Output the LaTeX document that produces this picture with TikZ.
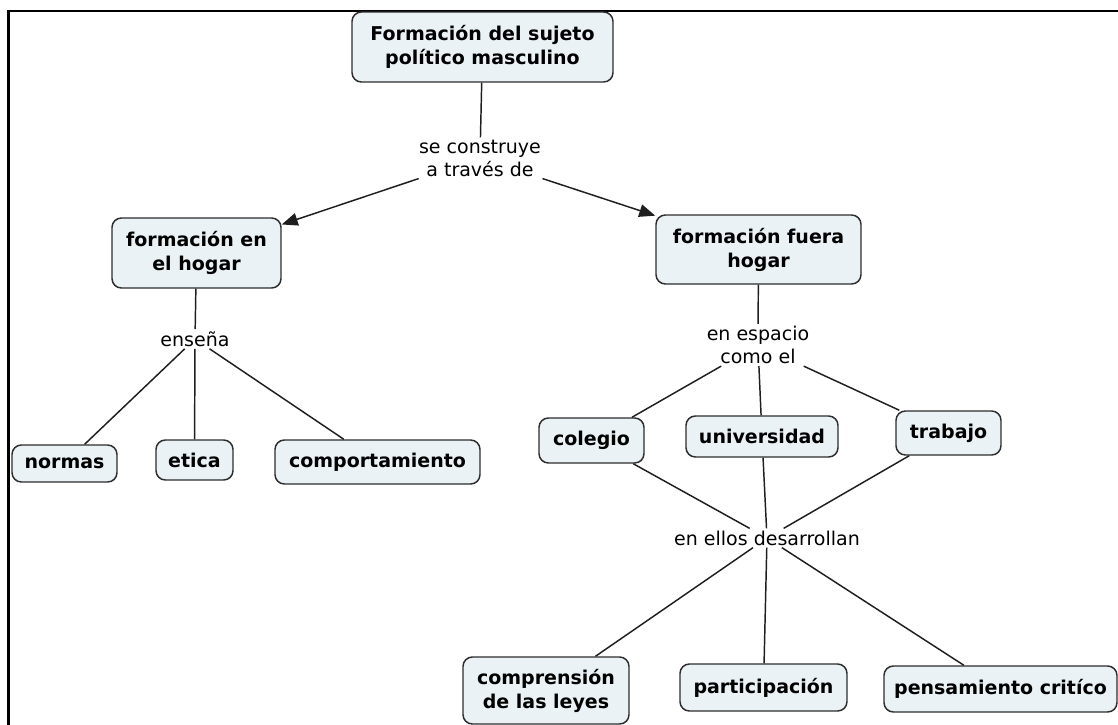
\documentclass[tikz,border=0pt]{standalone}
\usepackage{fontspec}
\setmainfont{DejaVu Sans}
\usetikzlibrary{arrows.meta}
\definecolor{boxfill}{RGB}{234,242,245}
\definecolor{boxline}{RGB}{45,45,45}
\definecolor{linkcol}{RGB}{30,30,30}
\tikzset{
  concept/.style={draw=boxline, fill=boxfill, rounded corners=7pt, line width=1.1pt,
    align=center, inner sep=0pt, text=black,
    font=\fontsize{14.25pt}{18pt}\selectfont\bfseries},
  linklabel/.style={align=center, inner sep=1.5pt, text=black,
    font=\fontsize{14.25pt}{17.25pt}\selectfont},
  link/.style={draw=linkcol, line width=1.1pt},
  arrowlink/.style={link, -{Triangle[length=12pt,width=9.5pt]}},
  frameline/.style={draw=black, line width=2.2pt}
}
\begin{document}
\begin{tikzpicture}[x=0.75pt,y=-0.75pt]
\useasboundingbox (0,0) rectangle (1118,725);
% frame
\coordinate (fTR) at (1118,11);
\coordinate (fTL) at (8.5,11);
\coordinate (fBL) at (8.5,725);
\draw[frameline] (fTR) -- (fTL) -- (fBL);

% concepts
\node[concept, minimum width=195.75pt, minimum height=52.5pt] (top) at (482.5,47)
  {Formación del sujeto\\político masculino};
\node[concept, minimum width=126.75pt, minimum height=52.5pt] (hogar) at (196.5,253)
  {formación en\\el hogar};
\node[concept, minimum width=153.75pt, minimum height=51.75pt] (fuera) at (758.5,249.5)
  {formación fuera\\hogar};
\node[concept, minimum width=78.75pt, minimum height=27.75pt] (normas) at (64.5,463.5) {normas};
\node[concept, minimum width=57.75pt, minimum height=30pt] (etica) at (194.5,460) {etica};
\node[concept, minimum width=153.75pt, minimum height=33pt] (comport) at (377.5,462) {comportamiento};
\node[concept, minimum width=78.75pt, minimum height=33.75pt] (colegio) at (591.5,440.5) {colegio};
\node[concept, minimum width=114pt, minimum height=30.75pt] (univ) at (762,436.5) {universidad};
\node[concept, minimum width=78.75pt, minimum height=33pt] (trabajo) at (948.5,433) {trabajo};
\node[concept, minimum width=124.5pt, minimum height=50.25pt] (compr) at (546,690.5)
  {comprensión\\de las leyes};
\node[concept, minimum width=125.25pt, minimum height=35.25pt] (partic) at (763.5,687.5) {participación};
\node[concept, minimum width=174.75pt, minimum height=34.5pt] (pensam) at (1000.5,689) {pensamiento critíco};

% linking phrases
\node[linklabel] (constr) at (480,158) {se construye\\a través de};
\node[linklabel] (ensena) at (195,339) {enseña};
\node[linklabel] (espacio) at (758,345) {en espacio\\como el};
\node[linklabel] (ellos) at (767,538) {en ellos desarrollan};

% connectors
\draw[link] (top) -- (constr);
\draw[arrowlink] (constr) -- (hogar);
\draw[arrowlink] (constr) -- (fuera);
\draw[link] (hogar) -- (ensena);
\draw[link] (ensena) -- (normas);
\draw[link] (ensena) -- (etica);
\draw[link] (ensena) -- (comport);
\draw[link] (fuera) -- (espacio);
\draw[link] (espacio) -- (colegio);
\draw[link] (espacio) -- (univ);
\draw[link] (espacio) -- (trabajo);
\draw[link] (colegio) -- (ellos);
\draw[link] (univ) -- (ellos);
\draw[link] (trabajo) -- (ellos);
\draw[link] (ellos) -- (compr);
\draw[link] (ellos) -- (partic);
\draw[link] (ellos) -- (pensam);
\end{tikzpicture}
\end{document}
